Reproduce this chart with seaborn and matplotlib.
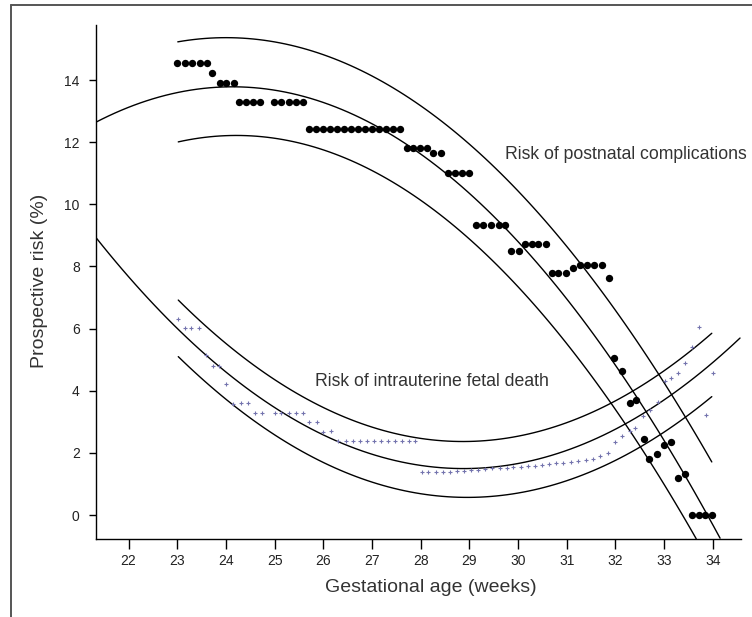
import numpy as np
import seaborn as sns
import matplotlib
matplotlib.use("Agg")
import matplotlib.pyplot as plt
from matplotlib.lines import Line2D

# ---------------- data ----------------
# Risk of postnatal complications (black dots)
post_x = [22.99, 23.15, 23.31, 23.47, 23.62,
          23.71,
          23.88, 24.01, 24.16,
          24.27, 24.41, 24.55, 24.70, 24.99, 25.13, 25.29, 25.44, 25.58,
          25.71, 25.85, 26.00, 26.14, 26.28, 26.43, 26.57, 26.72, 26.86, 27.00, 27.15, 27.29, 27.43, 27.58,
          27.71, 27.85, 27.99, 28.12, 28.26, 28.41,
          28.57, 28.71, 28.84, 29.00,
          29.14, 29.29, 29.44, 29.60, 29.73,
          29.86, 30.01, 30.14, 30.28, 30.42, 30.57,
          30.69, 30.83, 30.98, 31.12, 31.27, 31.42, 31.56, 31.72,
          31.87,
          31.98, 32.13, 32.29, 32.43, 32.58, 32.70, 32.86, 33.00, 33.14, 33.29, 33.43,
          33.57, 33.71, 33.84, 33.99]
post_y = [14.54, 14.54, 14.54, 14.54, 14.54,
          14.22,
          13.89, 13.89, 13.89,
          13.30, 13.30, 13.30, 13.30, 13.30, 13.30, 13.30, 13.30, 13.30,
          12.42, 12.42, 12.42, 12.42, 12.42, 12.42, 12.42, 12.42, 12.42, 12.42, 12.42, 12.42, 12.42, 12.42,
          11.80, 11.80, 11.80, 11.80, 11.66, 11.66,
          11.00, 11.00, 11.00, 11.00,
          9.33, 9.33, 9.33, 9.33, 9.33,
          8.50, 8.50, 8.71, 8.71, 8.71, 8.71,
          7.78, 7.78, 7.78, 7.96, 8.05, 8.05, 8.05, 8.05,
          7.62,
          5.04, 4.63, 3.60, 3.70, 2.44, 1.79, 1.95, 2.25, 2.36, 1.20, 1.32,
          0.0, 0.0, 0.0, 0.0]

# Risk of intrauterine fetal death (purple crosses)
fetal_x = [23.02, 23.16, 23.29, 23.45, 23.59, 23.73, 23.86, 24.01, 24.14, 24.30, 24.46,
           24.60, 24.73, 25.01, 25.14, 25.30, 25.44, 25.59, 25.71, 25.86, 26.00, 26.16,
           26.31, 26.46, 26.60, 26.75, 26.89, 27.04, 27.19, 27.32, 27.47, 27.61, 27.75, 27.88,
           28.02, 28.16, 28.31, 28.45, 28.60, 28.74, 28.89, 29.03, 29.18, 29.32, 29.47, 29.62,
           29.77, 29.90, 30.06, 30.20, 30.35, 30.50, 30.64, 30.78, 30.93, 31.09, 31.24, 31.39,
           31.54, 31.69, 31.84,
           32.00, 32.13, 32.29, 32.41, 32.57, 32.71, 32.87, 33.01, 33.14, 33.28, 33.42, 33.57,
           33.71, 33.86, 34.00]
fetal_y = [6.30, 6.01, 6.01, 6.01, 5.15, 4.81, 4.81, 4.21, 3.56, 3.61, 3.61,
           3.29, 3.29, 3.29, 3.29, 3.29, 3.29, 3.29, 3.00, 3.00, 2.66, 2.70,
           2.38, 2.38, 2.38, 2.38, 2.38, 2.38, 2.38, 2.38, 2.38, 2.38, 2.38, 2.38,
           1.37, 1.37, 1.37, 1.37, 1.39, 1.42, 1.42, 1.45, 1.45, 1.47, 1.50, 1.52,
           1.52, 1.55, 1.55, 1.58, 1.58, 1.61, 1.63, 1.66, 1.68, 1.70, 1.74, 1.77,
           1.82, 1.90, 2.01,
           2.36, 2.54, 2.70, 2.81, 3.19, 3.38, 3.65, 4.31, 4.42, 4.56, 4.88, 5.42,
           6.06, 3.22, 4.56]

# Fitted curves (points read along each curve of the reference)
post_upper_x = [23.01, 23.47, 25.59, 28.60, 28.81, 31.28, 31.89, 33.98]
post_upper_y = [15.20, 15.39, 14.97, 12.39, 12.23, 8.10, 6.92, 1.66]
post_mid_x = [21.33, 23.47, 24.22, 25.59, 27.03, 27.58, 28.81, 29.63, 31.00, 34.15]
post_mid_y = [12.68, 13.73, 13.77, 13.36, 12.55, 12.02, 10.73, 9.49, 6.92, -0.77]
post_low_x = [23.02, 24.01, 25.38, 27.58, 28.81, 30.25, 33.66]
post_low_y = [12.02, 12.23, 11.96, 10.57, 9.17, 6.92, -0.77]

fetal_upper_x = [23.02, 27.58, 28.61, 29.15, 33.98]
fetal_upper_y = [6.92, 2.57, 2.41, 2.36, 5.85]
fetal_mid_x = [21.33, 22.44, 27.58, 28.61, 29.29, 34.56]
fetal_mid_y = [9.00, 6.81, 1.72, 1.55, 1.50, 5.69]
fetal_low_x = [23.02, 27.58, 28.61, 29.29, 33.98]
fetal_low_y = [5.10, 0.80, 0.59, 0.59, 3.81]

x_ticks = [22, 23, 24, 25, 26, 27, 28, 29, 30, 31, 32, 33, 34]
y_ticks = [0, 2, 4, 6, 8, 10, 12, 14]

label_post = "Risk of postnatal complications"
label_fetal = "Risk of intrauterine fetal death"
x_label = "Gestational age (weeks)"
y_label = "Prospective risk (%)"

# ---------------- drawing ----------------
sns.set_theme(style="ticks")
plt.rcParams['font.family'] = ['Liberation Sans', 'DejaVu Sans']

W, H = 752, 617
fig = plt.figure(figsize=(W / 100, H / 100), dpi=100)
ax = fig.add_axes([96 / W, (H - 539) / H, (741 - 96) / W, (539 - 25) / H])

curves = [(post_upper_x, post_upper_y), (post_mid_x, post_mid_y), (post_low_x, post_low_y),
          (fetal_upper_x, fetal_upper_y), (fetal_mid_x, fetal_mid_y), (fetal_low_x, fetal_low_y)]
for cx, cy in curves:
    sns.regplot(x=np.array(cx), y=np.array(cy), order=2, ci=None, scatter=False,
                truncate=True, ax=ax, line_kws=dict(color="black", lw=1.0))

sns.scatterplot(x=fetal_x, y=fetal_y, marker="+", color="#7474ae", s=10,
                linewidth=0.8, ax=ax, zorder=3)
sns.scatterplot(x=post_x, y=post_y, color="black", s=28, linewidth=0,
                ax=ax, zorder=4)

ax.set_xlim(21.33, 34.58)
ax.set_ylim(-0.77, 15.77)
ax.set_xticks(x_ticks)
ax.set_yticks(y_ticks)
ax.set_xlabel("")
ax.set_ylabel("")
sns.despine(ax=ax)
for s in ("left", "bottom"):
    ax.spines[s].set_linewidth(1.0)
    ax.spines[s].set_color("black")
ax.tick_params(axis="x", length=7, width=1.0, pad=4, labelsize=10, colors="black", labelcolor="#222222")
ax.tick_params(axis="y", length=4.7, width=1.0, pad=7, labelsize=10, colors="black", labelcolor="#222222")

ax.text(32.22, 11.59, label_post, ha="center", va="center", fontsize=12.7, color="#333333")
ax.text(28.24, 4.31, label_fetal, ha="center", va="center", fontsize=12.7, color="#333333")

fig.text(431 / W, 1 - 588 / H, x_label, ha="center", va="center", fontsize=14, color="#333333")
fig.text(40 / W, 1 - 281 / H, y_label, ha="center", va="center", rotation=90, fontsize=14, color="#333333")

# outer frame (cropped at right and bottom in the reference)
fig.add_artist(Line2D([10.5 / W, 10.5 / W], [0, 1 - 4.5 / H], transform=fig.transFigure, color="#555555", lw=1.4))
fig.add_artist(Line2D([10.5 / W, 1], [1 - 4.5 / H, 1 - 4.5 / H], transform=fig.transFigure, color="#555555", lw=1.4))

fig.savefig("out.png", dpi=100)
